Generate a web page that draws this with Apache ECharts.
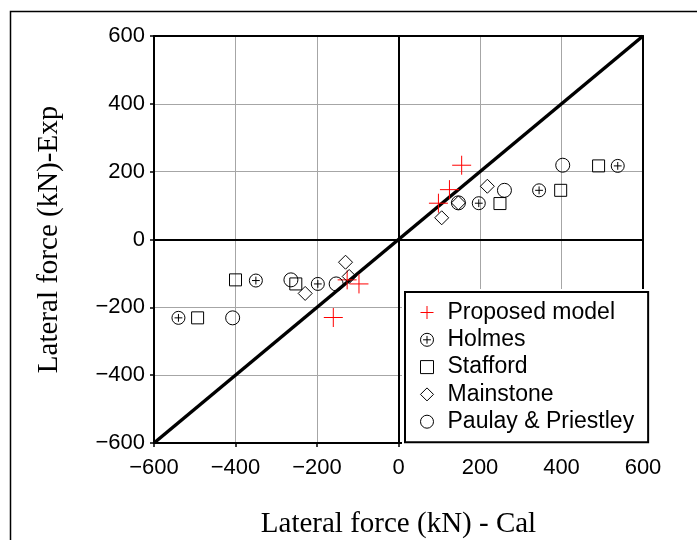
<!DOCTYPE html>
<html>
<head>
<meta charset="utf-8">
<script src="https://cdn.jsdelivr.net/npm/echarts@6/dist/echarts.min.js"></script>
<style>
  html, body { margin: 0; padding: 0; background: #fff; }
  #chart { width: 697px; height: 540px; }
</style>
</head>
<body>
<div id="chart"></div>
<script>
// Calculated vs. experimental lateral force (kN), one [cal, exp] pair per specimen
const seriesNames = ['Proposed model', 'Holmes', 'Stafford', 'Mainstone', 'Paulay & Priestley'];
const proposed  = [[155, 219], [125, 147], [98, 107], [-126, -119], [-97, -131], [-160, -230]];
const holmes    = [[197, 107], [345, 145], [538, 217], [-350, -121], [-198, -131], [-540, -231]];
const stafford  = [[249, 106], [398, 145], [491, 217], [-400, -119], [-252, -131], [-493, -231]];
const mainstone = [[106, 64], [147, 108], [218, 157], [-229, -159], [-130, -67], [-121, -109]];
const paulay    = [[147, 108], [260, 145], [403, 219], [-264, -119], [-153, -131], [-407, -231]];

// Line of equality (Cal = Exp)
const equalityLine = [[-600, -600], [600, 600]];

// Axis range and tick step
const axisMin = -600;
const axisMax = 600;
const axisStep = 200;

const PLUS = 'path://M10,0L10,20M0,10L20,10';
const OPLUS = 'path://M10,0A10,10,0,1,1,10,20A10,10,0,1,1,10,0ZM4,10L16,10M10,4L10,16';

const sansFont = '"Liberation Sans", Arial, sans-serif';
const serifFont = '"Liberation Serif", "Times New Roman", serif';
const minus = v => String(v).replace('-', '\u2212');

const chart = echarts.init(document.getElementById('chart'), null, { renderer: 'canvas' });

function markerSeries(name, data, symbol, size, color) {
  return {
    name: name,
    type: 'scatter',
    data: data,
    symbol: symbol,
    symbolSize: size,
    symbolKeepAspect: true,
    z: 5,
    itemStyle: { color: 'rgba(0,0,0,0)', borderColor: color, borderWidth: 1, opacity: 1 },
    emphasis: { disabled: true }
  };
}

const hiddenAxis = {
  type: 'value', min: axisMin, max: axisMax, interval: axisStep,
  axisLine: { show: true, onZero: false, lineStyle: { color: '#000', width: 2 } },
  axisTick: { show: false }, axisLabel: { show: false }, splitLine: { show: false }
};

chart.setOption({
  animation: false,
  backgroundColor: '#fff',
  grid: { left: 154, right: 54, top: 36, bottom: 97, outerBoundsMode: 'none', containLabel: false },
  xAxis: [{
    type: 'value', min: axisMin, max: axisMax, interval: axisStep,
    position: 'bottom',
    name: 'Lateral force (kN) - Cal',
    nameLocation: 'middle', nameGap: 67, nameMoveOverlap: false,
    nameTextStyle: { fontFamily: serifFont, fontSize: 29, color: '#000' },
    axisLine: { show: true, onZero: false, lineStyle: { color: '#000', width: 2 } },
    axisTick: { show: true, length: 4, lineStyle: { color: '#000', width: 1.5 } },
    axisLabel: { margin: 14, fontFamily: sansFont, fontSize: 22, color: '#000', formatter: minus },
    splitLine: { show: true, lineStyle: { color: '#a6a6a6', width: 1 } }
  }, Object.assign({ position: 'top' }, hiddenAxis)],
  yAxis: [{
    type: 'value', min: axisMin, max: axisMax, interval: axisStep,
    position: 'left',
    name: 'Lateral force (kN)-Exp',
    nameLocation: 'middle', nameGap: 90, nameRotate: 90, nameMoveOverlap: false,
    nameTextStyle: { fontFamily: serifFont, fontSize: 29, color: '#000' },
    axisLine: { show: true, onZero: false, lineStyle: { color: '#000', width: 2 } },
    axisTick: { show: true, length: 4, lineStyle: { color: '#000', width: 1.5 } },
    axisLabel: { margin: 9, fontFamily: sansFont, fontSize: 22, color: '#000', formatter: minus },
    splitLine: { show: true, lineStyle: { color: '#a6a6a6', width: 1 } }
  }, Object.assign({ position: 'right' }, hiddenAxis)],
  legend: {
    data: seriesNames,
    orient: 'vertical',
    left: 405, top: 292,
    z: 100,
    padding: [9, 14, 9, 15],
    itemGap: 4.3,
    itemWidth: 13, itemHeight: 13,
    symbolKeepAspect: true,
    backgroundColor: '#fff',
    borderColor: '#000', borderWidth: 2, borderRadius: 0,
    itemStyle: { borderWidth: 1 },
    textStyle: { fontFamily: sansFont, fontSize: 23, lineHeight: 23, color: '#000', padding: [0, 0, 0, 9] },
    selectedMode: false
  },
  graphic: [
    { type: 'rect', z: -10, silent: true,
      shape: { x: 10.5, y: 11.5, width: 720, height: 560 },
      style: { fill: 'none', stroke: '#000', lineWidth: 1.5 } },
    { type: 'rect', z: 90, silent: true,
      shape: { x: 402, y: 289, width: 250, height: 160 },
      style: { fill: '#fff' } }
  ],
  series: [
    {
      name: 'equality',
      type: 'line',
      data: equalityLine,
      showSymbol: false,
      silent: true,
      z: 3,
      lineStyle: { color: '#000', width: 3.5 },
      markLine: {
        silent: true,
        symbol: 'none',
        label: { show: false },
        lineStyle: { color: '#000', width: 2, type: 'solid' },
        data: [{ xAxis: 0 }, { yAxis: 0 }]
      }
    },
    markerSeries(seriesNames[0], proposed, PLUS, 19, '#ff0000'),
    markerSeries(seriesNames[1], holmes, OPLUS, 13, '#000'),
    markerSeries(seriesNames[2], stafford, 'rect', 12, '#000'),
    markerSeries(seriesNames[3], mainstone, 'diamond', 14, '#000'),
    markerSeries(seriesNames[4], paulay, 'circle', 14, '#000')
  ]
});
</script>
</body>
</html>
